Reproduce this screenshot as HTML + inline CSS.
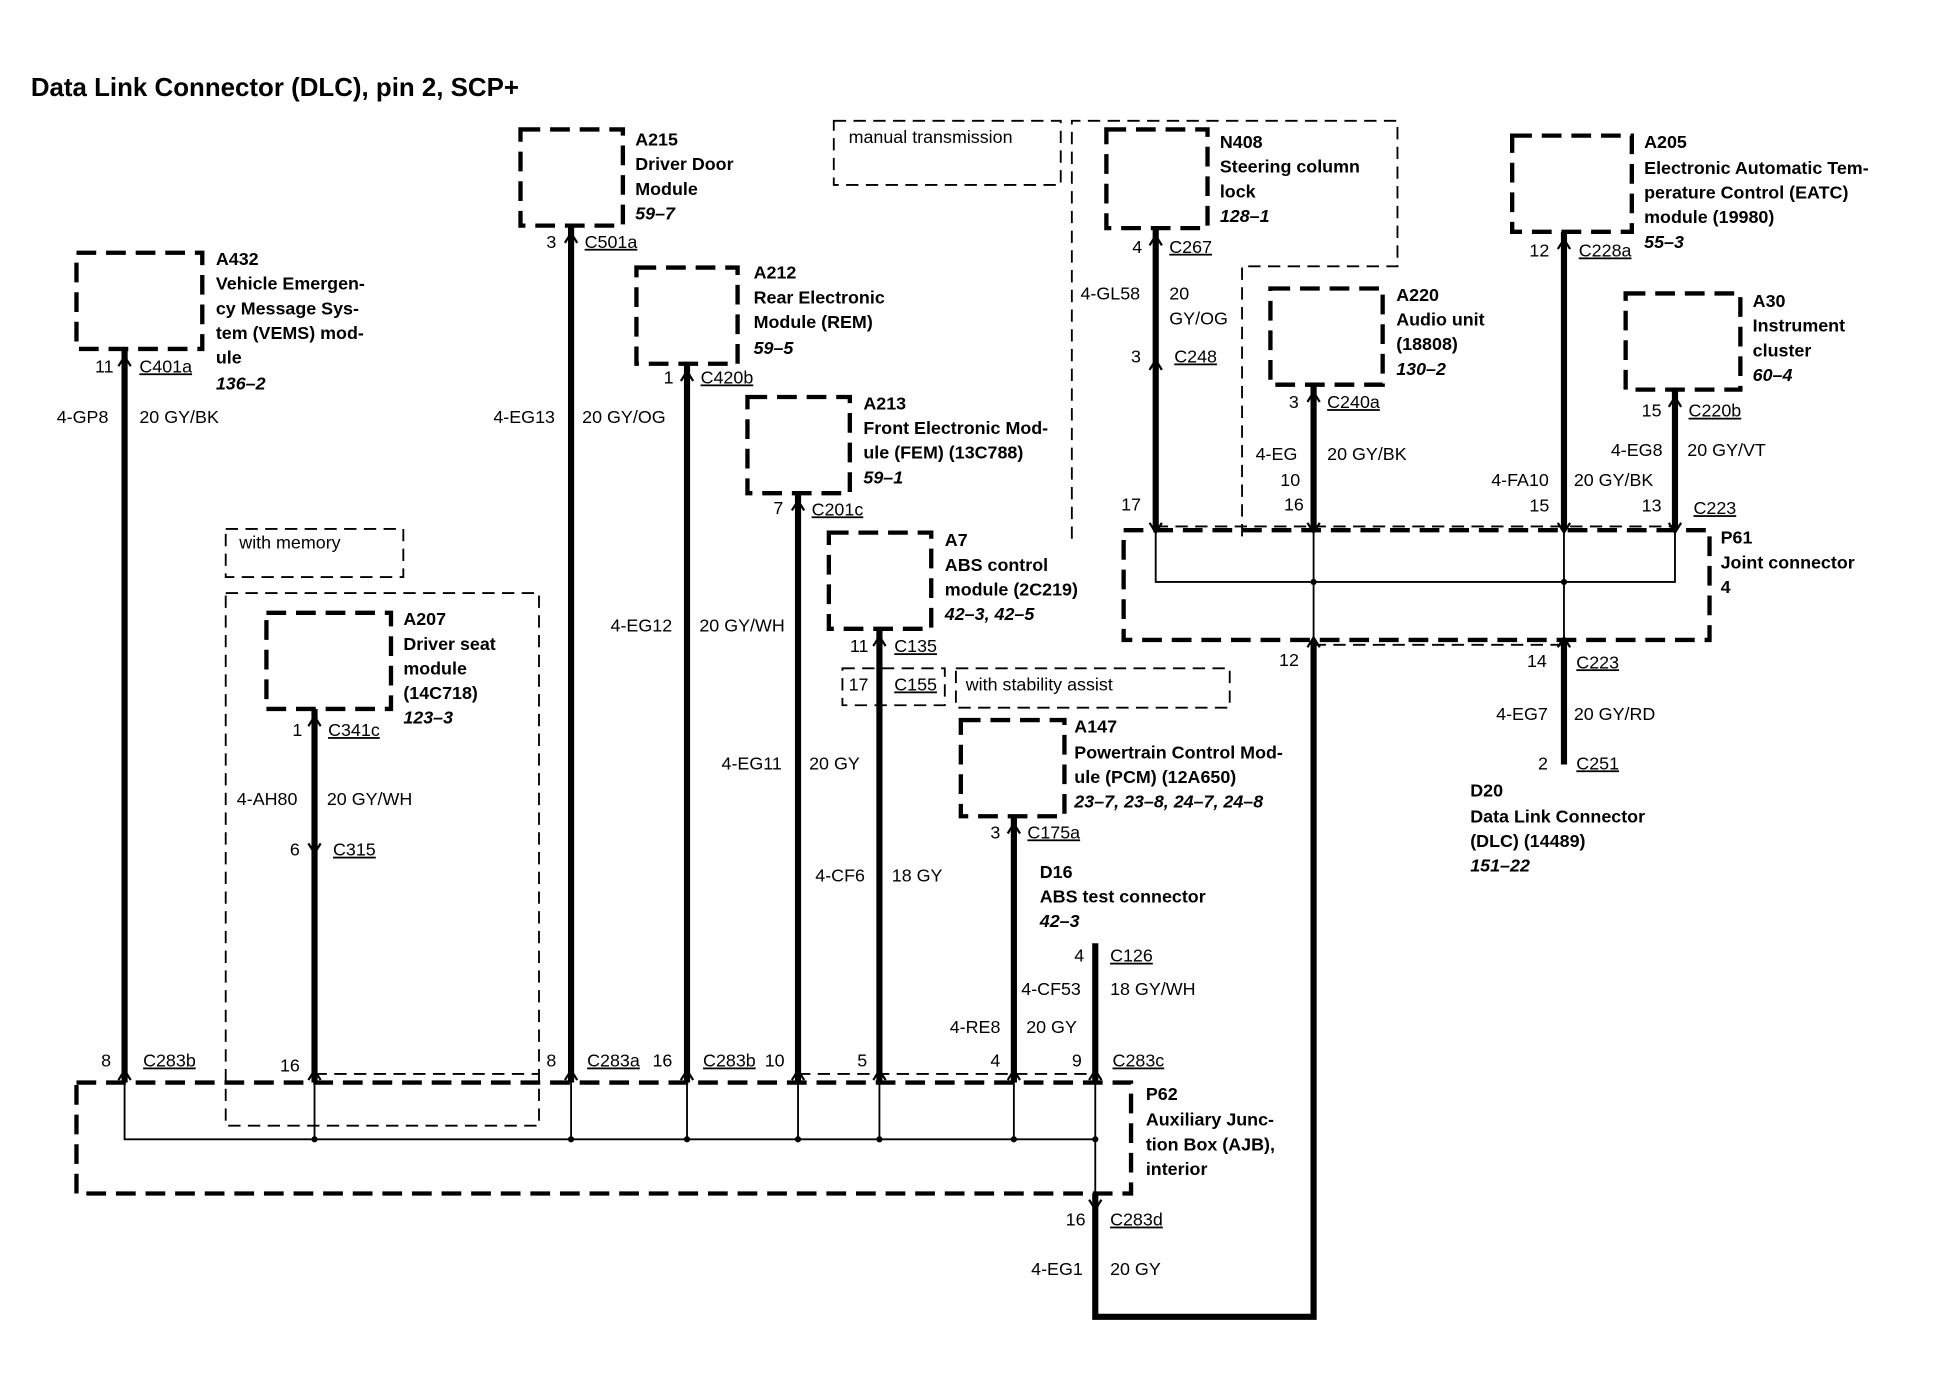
<!DOCTYPE html>
<html><head><meta charset="utf-8"><style>
html,body{margin:0;padding:0;background:#fff;}
svg{display:block;}
text{font-family:"Liberation Sans Narrow","Liberation Sans",Arial,sans-serif;font-size:14.5px;fill:#000;}
.b{font-weight:bold;}
.i{font-weight:bold;font-style:italic;}
.u{text-decoration:underline;}
.t{font-family:"Liberation Sans",Arial,sans-serif;font-size:21px;font-weight:bold;}
</style></head><body>
<svg width="1934" height="1376" viewBox="0 0 1568 1116" preserveAspectRatio="none" xmlns="http://www.w3.org/2000/svg">
<rect width="1568" height="1116" fill="#fff"/>
<text class="t" x="25" y="78">Data Link Connector (DLC), pin 2, SCP+</text>

<g fill="none" stroke="#000" stroke-width="1.5" stroke-dasharray="10,6">
<rect x="676" y="98" width="184" height="52"/>
<polyline points="869,437 869,98 1133,98 1133,216 1007,216 1007,437"/>
<rect x="183" y="429" width="144" height="39"/>
<rect x="183" y="481" width="254" height="432"/>
<rect x="683" y="542" width="83" height="30"/>
<rect x="775" y="542" width="222" height="32"/>
<line x1="255" y1="871" x2="437" y2="871"/>
<line x1="647" y1="871" x2="888" y2="871"/>
<line x1="1065" y1="523" x2="1268" y2="523"/>
<line x1="937" y1="427" x2="1358" y2="427"/>
</g>

<g fill="none" stroke="#000" stroke-width="3.5" stroke-dasharray="16,8">
<rect x="62" y="205" width="102" height="78"/>
<rect x="422" y="105" width="83" height="78"/>
<rect x="516" y="217" width="82" height="78"/>
<rect x="606" y="322" width="83" height="78"/>
<rect x="672" y="432" width="83" height="78"/>
<rect x="216" y="497" width="101" height="78"/>
<rect x="779" y="584" width="84" height="78"/>
<rect x="897" y="105" width="82" height="80"/>
<rect x="1030" y="234" width="91" height="78"/>
<rect x="1226" y="110" width="97" height="78"/>
<rect x="1318" y="238" width="93" height="78"/>
<rect x="911" y="430" width="475" height="89"/>
<rect x="62" y="878" width="855" height="90"/>
</g>

<g stroke="#000" stroke-width="5" fill="none">
<line x1="101" y1="283" x2="101" y2="878"/>
<line x1="463" y1="183" x2="463" y2="878"/>
<line x1="557" y1="295" x2="557" y2="878"/>
<line x1="647" y1="400" x2="647" y2="878"/>
<line x1="713" y1="510" x2="713" y2="878"/>
<line x1="255" y1="575" x2="255" y2="878"/>
<line x1="822" y1="662" x2="822" y2="878"/>
<line x1="888" y1="765" x2="888" y2="878"/>
<polyline points="888,968 888,1068 1065,1068 1065,519"/>
<line x1="937" y1="185" x2="937" y2="430"/>
<line x1="1065" y1="312" x2="1065" y2="430"/>
<line x1="1268" y1="188" x2="1268" y2="430"/>
<line x1="1358" y1="316" x2="1358" y2="430"/>
<line x1="1268" y1="519" x2="1268" y2="620"/>
</g>

<g stroke="#000" stroke-width="1.5" fill="none">
<polyline points="101,878 101,924 888,924 888,968"/>
<line x1="255" y1="878" x2="255" y2="924"/>
<line x1="463" y1="878" x2="463" y2="924"/>
<line x1="557" y1="878" x2="557" y2="924"/>
<line x1="647" y1="878" x2="647" y2="924"/>
<line x1="713" y1="878" x2="713" y2="924"/>
<line x1="822" y1="878" x2="822" y2="924"/>
<line x1="888" y1="878" x2="888" y2="924"/>
<polyline points="937,430 937,472 1358,472 1358,430"/>
<line x1="1065" y1="430" x2="1065" y2="519"/>
<line x1="1268" y1="430" x2="1268" y2="519"/>
</g>
<g fill="#000">
<circle cx="255" cy="924" r="2.5"/><circle cx="463" cy="924" r="2.5"/><circle cx="557" cy="924" r="2.5"/>
<circle cx="647" cy="924" r="2.5"/><circle cx="713" cy="924" r="2.5"/><circle cx="822" cy="924" r="2.5"/>
<circle cx="888" cy="924" r="2.5"/><circle cx="1065" cy="472" r="2.5"/><circle cx="1268" cy="472" r="2.5"/>
</g>

<g stroke="#000" stroke-width="1.8" fill="none">
<path d="M96,297 l5,-8 l5,8"/><path d="M458,197 l5,-8 l5,8"/><path d="M552,309 l5,-8 l5,8"/>
<path d="M642,414 l5,-8 l5,8"/><path d="M708,524 l5,-8 l5,8"/><path d="M250,589 l5,-8 l5,8"/>
<path d="M817,676 l5,-8 l5,8"/><path d="M932,199 l5,-8 l5,8"/><path d="M1060,326 l5,-8 l5,8"/>
<path d="M1263,202 l5,-8 l5,8"/><path d="M1353,330 l5,-8 l5,8"/>
<path d="M250,684 l5,8 l5,-8"/><path d="M932,300 l5,-8 l5,8"/>
<path d="M96,876 l5,-8 l5,8"/><path d="M250,876 l5,-8 l5,8"/><path d="M458,876 l5,-8 l5,8"/>
<path d="M552,876 l5,-8 l5,8"/><path d="M642,876 l5,-8 l5,8"/><path d="M708,876 l5,-8 l5,8"/>
<path d="M817,876 l5,-8 l5,8"/><path d="M883,876 l5,-8 l5,8"/>
<path d="M883,973 l5,8 l5,-8"/>
<path d="M932,424 l5,8 l5,-8"/><path d="M1060,424 l5,8 l5,-8"/><path d="M1263,424 l5,8 l5,-8"/><path d="M1353,424 l5,8 l5,-8"/>
<path d="M1060,525 l5,-8 l5,8"/><path d="M1263,525 l5,-8 l5,8"/>
</g>

<text class="b" x="175" y="215">A432</text><text class="b" x="175" y="235">Vehicle Emergen-</text><text class="b" x="175" y="255">cy Message Sys-</text><text class="b" x="175" y="275">tem (VEMS) mod-</text><text class="b" x="175" y="295">ule</text><text class="i" x="175" y="316">136–2</text>
<text x="77" y="302">11</text><text class="u" x="113" y="302">C401a</text>
<text x="46" y="343">4-GP8</text><text x="113" y="343">20 GY/BK</text>

<text class="b" x="515" y="118">A215</text><text class="b" x="515" y="138">Driver Door</text><text class="b" x="515" y="158">Module</text><text class="i" x="515" y="178">59–7</text>
<text x="443" y="201">3</text><text class="u" x="474" y="201">C501a</text>
<text x="400" y="343">4-EG13</text><text x="472" y="343">20 GY/OG</text>

<text class="b" x="611" y="226">A212</text><text class="b" x="611" y="246">Rear Electronic</text><text class="b" x="611" y="266">Module (REM)</text><text class="i" x="611" y="287">59–5</text>
<text x="538" y="311">1</text><text class="u" x="568" y="311">C420b</text>

<text class="b" x="700" y="332">A213</text><text class="b" x="700" y="352">Front Electronic Mod-</text><text class="b" x="700" y="372">ule (FEM) (13C788)</text><text class="i" x="700" y="392">59–1</text>
<text x="627" y="417">7</text><text class="u" x="658" y="418">C201c</text>
<text x="495" y="512">4-EG12</text><text x="567" y="512">20 GY/WH</text>
<text x="585" y="624">4-EG11</text><text x="656" y="624">20 GY</text>

<text class="b" x="766" y="443">A7</text><text class="b" x="766" y="463">ABS control</text><text class="b" x="766" y="483">module (2C219)</text><text class="i" x="766" y="503">42–3, 42–5</text>
<text x="689" y="529">11</text><text class="u" x="725" y="529">C135</text>
<text x="688" y="560">17</text><text class="u" x="725" y="560">C155</text><text x="783" y="560">with stability assist</text>
<text x="661" y="715">4-CF6</text><text x="723" y="715">18 GY</text>

<text x="194" y="445">with memory</text>
<text class="b" x="327" y="507">A207</text><text class="b" x="327" y="527">Driver seat</text><text class="b" x="327" y="547">module</text><text class="b" x="327" y="567">(14C718)</text><text class="i" x="327" y="587">123–3</text>
<text x="237" y="597">1</text><text class="u" x="266" y="597">C341c</text>
<text x="192" y="653">4-AH80</text><text x="265" y="653">20 GY/WH</text>
<text x="235" y="694">6</text><text class="u" x="270" y="694">C315</text>

<text class="b" x="871" y="594">A147</text><text class="b" x="871" y="615">Powertrain Control Mod-</text><text class="b" x="871" y="635">ule (PCM) (12A650)</text><text class="i" x="871" y="655">23–7, 23–8, 24–7, 24–8</text>
<text x="803" y="680">3</text><text class="u" x="833" y="680">C175a</text>
<text class="b" x="843" y="712">D16</text><text class="b" x="843" y="732">ABS test connector</text><text class="i" x="843" y="752">42–3</text>
<text x="871" y="780">4</text><text class="u" x="900" y="780">C126</text>
<text x="828" y="807">4-CF53</text><text x="900" y="807">18 GY/WH</text>
<text x="770" y="838">4-RE8</text><text x="832" y="838">20 GY</text>

<text x="82" y="865">8</text><text class="u" x="116" y="865">C283b</text><text x="227" y="869">16</text>
<text x="443" y="865">8</text><text class="u" x="476" y="865">C283a</text><text x="529" y="865">16</text>
<text class="u" x="570" y="865">C283b</text><text x="620" y="865">10</text><text x="695" y="865">5</text>
<text x="803" y="865">4</text><text x="869" y="865">9</text><text class="u" x="902" y="865">C283c</text>

<text class="b" x="929" y="892">P62</text><text class="b" x="929" y="913">Auxiliary Junc-</text><text class="b" x="929" y="933">tion Box (AJB),</text><text class="b" x="929" y="953">interior</text>
<text x="864" y="994">16</text><text class="u" x="900" y="994">C283d</text>
<text x="836" y="1034">4-EG1</text><text x="900" y="1034">20 GY</text>

<text x="688" y="116">manual transmission</text>

<text class="b" x="989" y="120">N408</text><text class="b" x="989" y="140">Steering column</text><text class="b" x="989" y="160">lock</text><text class="i" x="989" y="180">128–1</text>
<text x="918" y="205">4</text><text class="u" x="948" y="205">C267</text>
<text x="876" y="243">4-GL58</text><text x="948" y="243">20</text><text x="948" y="263">GY/OG</text>
<text x="917" y="294">3</text><text class="u" x="952" y="294">C248</text>
<text x="909" y="414">17</text>

<text class="b" x="1132" y="244">A220</text><text class="b" x="1132" y="264">Audio unit</text><text class="b" x="1132" y="284">(18808)</text><text class="i" x="1132" y="304">130–2</text>
<text x="1045" y="331">3</text><text class="u" x="1076" y="331">C240a</text>
<text x="1018" y="373">4-EG</text><text x="1076" y="373">20 GY/BK</text><text x="1038" y="394">10</text><text x="1041" y="414">16</text>

<text class="b" x="1333" y="120">A205</text><text class="b" x="1333" y="141">Electronic Automatic Tem-</text><text class="b" x="1333" y="161">perature Control (EATC)</text><text class="b" x="1333" y="181">module (19980)</text><text class="i" x="1333" y="201">55–3</text>
<text x="1240" y="208">12</text><text class="u" x="1280" y="208">C228a</text>

<text class="b" x="1421" y="249">A30</text><text class="b" x="1421" y="269">Instrument</text><text class="b" x="1421" y="289">cluster</text><text class="i" x="1421" y="309">60–4</text>
<text x="1331" y="338">15</text><text class="u" x="1369" y="338">C220b</text>
<text x="1306" y="370">4-EG8</text><text x="1368" y="370">20 GY/VT</text>
<text x="1209" y="394">4-FA10</text><text x="1276" y="394">20 GY/BK</text>
<text x="1240" y="415">15</text><text x="1331" y="415">13</text><text class="u" x="1373" y="417">C223</text>

<text class="b" x="1395" y="441">P61</text><text class="b" x="1395" y="461">Joint connector</text><text class="b" x="1395" y="481">4</text>
<text x="1037" y="540">12</text>
<text x="1238" y="541">14</text><text class="u" x="1278" y="542">C223</text>
<text x="1213" y="584">4-EG7</text><text x="1276" y="584">20 GY/RD</text>
<text x="1247" y="624">2</text><text class="u" x="1278" y="624">C251</text>
<text class="b" x="1192" y="646">D20</text><text class="b" x="1192" y="667">Data Link Connector</text><text class="b" x="1192" y="687">(DLC) (14489)</text><text class="i" x="1192" y="707">151–22</text>
</svg>
</body></html>
